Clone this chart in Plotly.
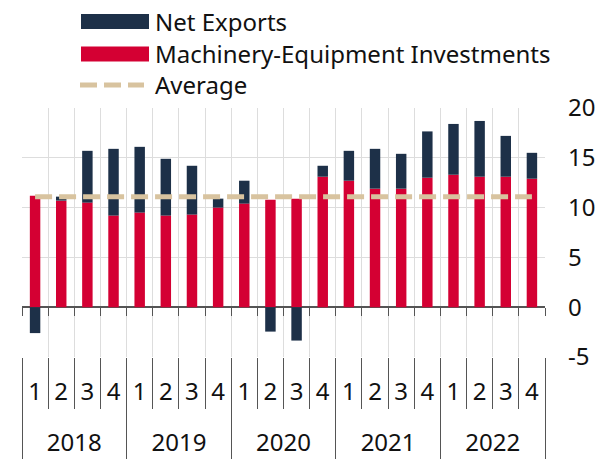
import plotly.graph_objects as go

years = ["2018"] * 4 + ["2019"] * 4 + ["2020"] * 4 + ["2021"] * 4 + ["2022"] * 4
quarters = ["1", "2", "3", "4"] * 5

machinery = [11.2, 10.7, 10.5, 9.2, 9.5, 9.2, 9.3, 10.0, 10.4, 10.8,
             10.9, 13.1, 12.7, 11.9, 11.9, 13.0, 13.3, 13.1, 13.1, 12.9]
net_exports = [-2.6, 0.4, 5.2, 6.7, 6.6, 5.7, 4.9, 0.9, 2.3, -2.45,
               -3.35, 1.1, 3.0, 4.0, 3.5, 4.65, 5.1, 5.6, 4.1, 2.6]
average_value = 11.1
average = [average_value] * len(quarters)

y_ticks = [-5, 0, 5, 10, 15, 20]

NAVY = "#1d3048"
RED = "#d40033"
TAN = "#d8c39f"
AXIS = "#555555"
GRID = "#dddddd"
FONT = "Noto Sans"
FS = 24

# an empty second line makes room between the quarter row and the year row
quarter_labels = [q + "<br><sub>\u00a0</sub>" for q in quarters]
x = [years, quarter_labels]

fig = go.Figure()
fig.add_trace(go.Bar(x=x, y=machinery, name="Machinery-Equipment Investments",
                     marker_color=RED, marker_line_width=0, width=0.4, showlegend=False))
fig.add_trace(go.Bar(x=x, y=net_exports, name="Net Exports",
                     marker_color=NAVY, marker_line_width=0, width=0.4, showlegend=False))
fig.add_trace(go.Scatter(x=x, y=average, name="Average", mode="lines",
                         line=dict(color=TAN, width=5, dash="17px,7px"), showlegend=False))

# helper trace for tick marks along the zero line
n = len(quarters)
fig.add_trace(go.Scatter(x=[-0.5, n - 0.5], y=[0, 0], xaxis="x2", mode="none",
                         showlegend=False, hoverinfo="skip"))

# the page body has an 8px margin: the figure is sized to fit the window
OFF = 8
W, H = 614 - OFF, 459 - OFF
ml, mr, mt, mb = 14, 69, 100, 102
pw = W - ml - mr
ph = H - mt - mb


def px_x(p):
    return (p - OFF - ml) / pw


def px_y(p):
    return (OFF + mt + ph - p) / ph


ymin, ymax = -5, 20

fig.update_layout(
    width=W, height=H,
    margin=dict(l=ml, r=mr, t=mt, b=mb),
    barmode="relative",
    plot_bgcolor="white", paper_bgcolor="white",
    font=dict(family=FONT, size=FS, color="#111111"),
    showlegend=False,
    xaxis=dict(
        type="multicategory", automargin=False,
        tickson="boundaries", tickmode="linear", tick0=0, dtick=1,
        ticks="outside", ticklen=51, tickcolor=AXIS, tickwidth=1,
        showgrid=True, gridcolor=GRID, gridwidth=1,
        showdividers=True, dividercolor=AXIS, dividerwidth=1,
        showline=False, ticklabelstandoff=18,
        tickfont=dict(size=FS),
    ),
    xaxis2=dict(
        overlaying="x", anchor="free", position=(0 - ymin) / (ymax - ymin),
        range=[-0.5, n - 0.5], automargin=False,
        tickmode="array", tickvals=[i - 0.5 for i in range(n + 1)],
        ticks="outside", ticklen=8, tickcolor=AXIS, tickwidth=1,
        showticklabels=False, showgrid=False, zeroline=False, showline=False,
    ),
    yaxis=dict(
        side="right", range=[ymin, ymax], automargin=False,
        tickmode="array", tickvals=y_ticks, ticktext=[str(v) for v in y_ticks],
        showgrid=True, gridcolor=GRID, gridwidth=1,
        zeroline=True, zerolinecolor=AXIS, zerolinewidth=1.5,
        ticks="", ticklabelstandoff=22,
        tickfont=dict(size=FS),
    ),
)

# custom legend
legend_items = [
    ("Net Exports", "rect", NAVY, 21.5),
    ("Machinery-Equipment Investments", "rect", RED, 54),
    ("Average", "line", TAN, 85),
]
shapes = []
annotations = []
for label, kind, color, cy in legend_items:
    if kind == "rect":
        shapes.append(dict(type="rect", xref="paper", yref="paper",
                           x0=px_x(81), x1=px_x(149), y0=px_y(cy + 7.5), y1=px_y(cy - 7.5),
                           fillcolor=color, line_width=0, layer="above"))
    else:
        shapes.append(dict(type="line", xref="paper", yref="paper",
                           x0=px_x(80), x1=px_x(144), y0=px_y(cy), y1=px_y(cy),
                           line=dict(color=color, width=5, dash="17px,7px"), layer="above"))
    annotations.append(dict(text=label, xref="paper", yref="paper",
                            x=px_x(153), y=px_y(cy), xanchor="left", yanchor="middle",
                            showarrow=False, font=dict(size=FS, family=FONT, color="#111111")))

fig.update_layout(shapes=shapes, annotations=annotations)

fig.write_html("out.html")
